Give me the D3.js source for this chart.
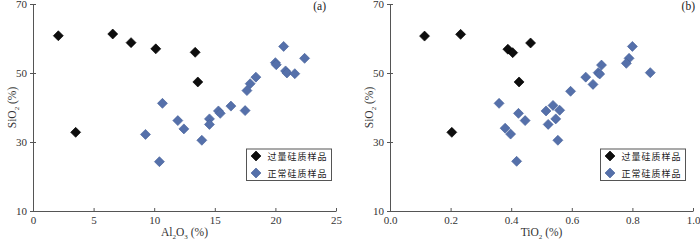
<!DOCTYPE html>
<html><head><meta charset="utf-8">
<script src="https://cdn.jsdelivr.net/npm/d3@7/dist/d3.min.js"></script>
<style>
body{margin:0;background:#fff;}
svg{display:block;}
</style></head>
<body>
<svg id="c" width="700" height="240"></svg>
<script>
// Panel (a): Al2O3 vs SiO2
const blackAl  = [2.09, 6.58, 8.09, 10.13, 13.38, 13.6, 3.52];
const blackSiA = [60.8, 61.3, 58.8, 57.0, 56.0, 47.4, 32.8];
const blueAl   = [20.68, 22.41, 20.0, 20.07, 20.84, 20.95, 21.6, 18.39, 17.92, 17.65, 17.5, 16.33, 15.3, 15.45, 14.56, 14.56, 13.93, 12.45, 11.95, 10.68, 9.28, 10.43];
const blueSiA  = [57.7, 54.25, 53.0, 52.4, 50.6, 50.0, 49.8, 48.8, 46.9, 44.9, 39.1, 40.4, 39.0, 38.3, 36.7, 35.1, 30.5, 33.8, 36.2, 41.2, 32.2, 24.3];
// Panel (b): TiO2 vs SiO2
const blackTi  = [0.114, 0.233, 0.464, 0.389, 0.405, 0.426, 0.204];
const blackSiB = [60.7, 61.2, 58.7, 56.9, 55.9, 47.4, 32.8];
const blueTi   = [0.80, 0.789, 0.78, 0.687, 0.692, 0.698, 0.859, 0.646, 0.67, 0.596, 0.36, 0.424, 0.446, 0.515, 0.538, 0.56, 0.547, 0.522, 0.554, 0.38, 0.398, 0.418];
const blueSiB  = [57.7, 54.25, 52.8, 50.1, 49.7, 52.3, 50.1, 48.8, 46.7, 44.7, 41.2, 38.3, 36.2, 39.0, 40.6, 39.2, 36.7, 35.1, 30.5, 34.0, 32.3, 24.4];

const yTicks = [10, 30, 50, 70];
const xTicksA = [0, 5, 10, 15, 20, 25];
const xTicksB = [0, 0.2, 0.4, 0.6, 0.8, 1.0];
const legendLabels = ["过量硅质样品", "正常硅质样品"];
const panelLabels = ["(a)", "(b)"];

const svg = d3.select("#c");
const serif = "'Liberation Serif','DejaVu Serif',serif";
const cjk = "'Noto Sans CJK SC','Noto Sans CJK JP',sans-serif";
const axisCol = "#555";
const blackCol = "#0d0d0d";
const blueCol = "#5570aa";

function panel(opts){
  const g = svg.append("g");
  const x = d3.scaleLinear().domain(opts.xDomain).range([opts.x0, opts.x1]);
  const y = d3.scaleLinear().domain([10, 70]).range([211, 4]);

  // axes
  const xa = g.append("g").attr("transform", `translate(0,${y(10)})`)
    .call(d3.axisBottom(x).tickValues(opts.xTicks).tickFormat(opts.fmt).tickSizeInner(-3).tickSizeOuter(0).tickPadding(5));
  const ya = g.append("g").attr("transform", `translate(${x(opts.xDomain[0])},0)`)
    .call(d3.axisLeft(y).tickValues(yTicks).tickSizeInner(3).tickSizeOuter(0).tickPadding(3));
  [xa, ya].forEach(a => {
    a.select(".domain").attr("stroke", axisCol).attr("stroke-width", 1);
    a.selectAll(".tick line").attr("stroke", axisCol);
    a.selectAll(".tick text").attr("fill", "#333").style("font-family", serif).style("font-size", "11px");
  });
  ya.selectAll(".tick line").attr("x1", 3);
  // hide the first x label overlapping? keep all

  // axis titles
  const cx = (opts.x0 + opts.x1) / 2;
  const xt = g.append("text").attr("x", cx).attr("y", 236).attr("text-anchor", "middle")
    .attr("fill", "#333").style("font-family", serif).style("font-size", "11.5px");
  xt.append("tspan").text(opts.xName);
  xt.append("tspan").attr("dy", 2.5).style("font-size", "7px").text(opts.xSub1);
  if (opts.xName2) {
    xt.append("tspan").attr("dy", -2.5).text(opts.xName2);
    xt.append("tspan").attr("dy", 2.5).style("font-size", "7px").text(opts.xSub2);
  }
  xt.append("tspan").attr("dy", -2.5).text(" (%)");

  const yt = g.append("text").attr("transform", `translate(${opts.x0 - 17},${y(40)}) rotate(-90)`)
    .attr("text-anchor", "middle").attr("fill", "#333").style("font-family", serif).style("font-size", "11.5px");
  yt.append("tspan").text("SiO");
  yt.append("tspan").attr("dy", 2.5).style("font-size", "7px").text("2");
  yt.append("tspan").attr("dy", -2.5).text(" (%)");

  // panel label
  g.append("text").attr("x", opts.labX).attr("y", 10).attr("text-anchor", "end")
    .attr("fill", "#222").style("font-family", serif).style("font-size", "11.5px").text(opts.label);

  const diamond = d3.symbol().type(d3.symbolDiamond2 || d3.symbolSquare).size(55);
  function pts(xs, ys, col, stroke){
    g.append("g").selectAll("path").data(xs.map((v,i)=>[v, ys[i]])).join("path")
      .attr("d", d3.symbol().type(d3.symbolSquare).size(50))
      .attr("transform", d => `translate(${x(d[0])},${y(d[1])}) rotate(45)`)
      .attr("fill", col).attr("stroke", stroke).attr("stroke-width", 0.6);
  }
  pts(opts.bx, opts.by, blackCol, "#000");
  pts(opts.ux, opts.uy, blueCol, "#46609a");

  // legend
  const lx = opts.legX, ly = 149;
  g.append("rect").attr("x", lx).attr("y", ly).attr("width", 85).attr("height", 31.5)
    .attr("fill", "#fff").attr("stroke", "#555").attr("stroke-width", 1);
  [[blackCol, "#000"], [blueCol, "#46609a"]].forEach((c, i) => {
    const yy = ly + 7 + i * 17;
    g.append("path").attr("d", d3.symbol().type(d3.symbolSquare).size(50)())
      .attr("transform", `translate(${lx + 9.5},${yy}) rotate(45)`)
      .attr("fill", c[0]).attr("stroke", c[1]).attr("stroke-width", 0.6);
    g.append("text").attr("x", lx + 21).attr("y", yy + 3.5).attr("fill", "#222")
      .style("font-family", cjk).style("font-size", "9px").style("letter-spacing", "1px")
      .text(legendLabels[i]);
  });
}

panel({xDomain:[0,25], x0:33, x1:336, xTicks:xTicksA, fmt:d3.format("d"),
  xName:"Al", xSub1:"2", xName2:"O", xSub2:"3", label:panelLabels[0], labX:326, legX:246.5,
  bx:blackAl, by:blackSiA, ux:blueAl, uy:blueSiA});
panel({xDomain:[0,1], x0:390, x1:693, xTicks:xTicksB, fmt:d3.format(".1f"),
  xName:"TiO", xSub1:"2", label:panelLabels[1], labX:695, legX:600.5,
  bx:blackTi, by:blackSiB, ux:blueTi, uy:blueSiB});
</script>
</body></html>
